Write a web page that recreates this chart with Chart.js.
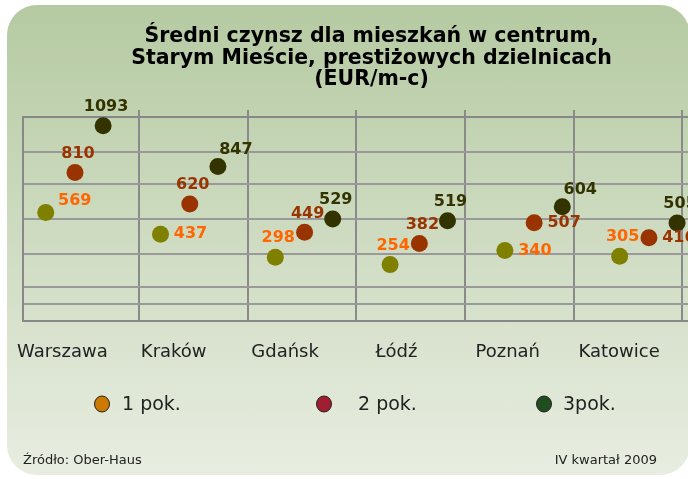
<!DOCTYPE html>
<html>
<head>
<meta charset="utf-8">
<script src="https://cdn.jsdelivr.net/npm/chart.js"></script>
<style>
  html, body { margin: 0; padding: 0; width: 688px; height: 479px; overflow: hidden; background: #fff; }
  #panel {
    position: absolute; left: 7px; top: 5px; width: 683px; height: 470px;
    border-radius: 30px;
    background: linear-gradient(to bottom, #b5caa2 0%, #e8ede1 100%);
  }
  #chart { position: absolute; left: 0; top: 0; }
</style>
</head>
<body>
<div id="panel"></div>
<canvas id="chart" width="720" height="479"></canvas>
<script>
const cities = ['Warszawa', 'Kraków', 'Gdańsk', 'Łódź', 'Poznań', 'Katowice'];
const seriesNames = ['1 pok.', '2 pok.', '3pok.'];
const rooms1 = [569, 437, 298, 254, 340, 305];
const rooms2 = [810, 620, 449, 382, 507, 416];
const rooms3 = [1093, 847, 529, 519, 604, 505];
const gridValues = [15, 120, 320, 530, 740, 935];

// where each value label sits next to its dot
const place1 = ['rt', 'r', 't', 't', 'r', 't'];
const place2 = ['t', 't', 't', 't', 'r', 'r'];
const place3 = ['t', 'tr', 't', 't', 'tr', 't'];

const dotColors = ['#808000', '#993300', '#333300'];
const labelColors = ['#ff6600', '#993300', '#333300'];
const legendColors = ['#cc7a00', '#a11e30', '#1f4d1f'];
const seriesShift = [0, 0.255, 0.5]; // dots of one city sit side by side

const xMin = -0.198, xMax = 5.8;
const yMin = -89, yMax = 1146;

function toPoints(values, s) {
    return values.map((v, i) => ({ x: i + seriesShift[s], y: v }));
}

const allValues = [rooms1, rooms2, rooms3];
const allPlaces = [place1, place2, place3];

const labelOffsets = {
    t: [3, -19],
    tr: [18, -17],
    rt: [29, -12],
    r: [30, 0]
};

// ✅ Value labels next to the dots
const valueLabels = {
    id: 'valueLabels',
    afterDatasetsDraw(chart) {
        const ctx = chart.ctx;
        ctx.save();
        ctx.font = 'bold 16px "DejaVu Sans"';
        ctx.textAlign = 'center';
        ctx.textBaseline = 'middle';
        chart.data.datasets.forEach((ds, s) => {
            const meta = chart.getDatasetMeta(s);
            meta.data.forEach((pt, i) => {
                const off = labelOffsets[allPlaces[s][i]];
                ctx.fillStyle = labelColors[s];
                ctx.fillText(String(allValues[s][i]), pt.x + off[0], pt.y + off[1]);
            });
        });
        ctx.restore();
    }
};

// ✅ Legend row and footer notes
const legendAndFooter = {
    id: 'legendAndFooter',
    afterDraw(chart) {
        const ctx = chart.ctx;
        ctx.save();
        const markerX = [102, 324, 544];
        const textX = [122, 358, 563];
        ctx.font = '19px "DejaVu Sans"';
        ctx.textBaseline = 'middle';
        ctx.textAlign = 'left';
        seriesNames.forEach((name, s) => {
            ctx.beginPath();
            ctx.ellipse(markerX[s], 404, 7.5, 8, 0, 0, Math.PI * 2);
            ctx.fillStyle = legendColors[s];
            ctx.fill();
            ctx.lineWidth = 1;
            ctx.strokeStyle = '#222';
            ctx.stroke();
            ctx.fillStyle = '#222';
            ctx.fillText(name, textX[s], 405);
        });

        ctx.font = '13px "DejaVu Sans"';
        ctx.fillStyle = '#222';
        ctx.fillText('Źródło: Ober-Haus', 23, 461);
        ctx.textAlign = 'right';
        ctx.fillText('IV kwartał 2009', 657, 461);
        ctx.restore();
    }
};

const ctx = document.getElementById('chart').getContext('2d');

const chart = new Chart(ctx, {
    type: 'scatter',
    data: {
        datasets: seriesNames.map((name, s) => ({
            label: name,
            data: toPoints(allValues[s], s),
            backgroundColor: dotColors[s],
            borderWidth: 0,
            pointRadius: 8.5,
            pointHoverRadius: 8.5
        }))
    },
    options: {
        responsive: false,
        animation: false,
        events: [],
        layout: {
            padding: { top: 26, left: 23, right: 0, bottom: 104 }
        },
        plugins: {
            legend: { display: false },
            tooltip: { enabled: false },
            title: {
                display: true,
                text: [
                    'Średni czynsz dla mieszkań w centrum,',
                    'Starym Mieście, prestiżowych dzielnicach',
                    '(EUR/m-c)'
                ],
                color: '#000',
                font: { family: 'DejaVu Sans', size: 20.5, weight: 'bold', lineHeight: 1.05 },
                padding: { top: 0, bottom: 19.4 }
            }
        },
        scales: {
            x: {
                type: 'linear',
                position: 'bottom',
                min: xMin,
                max: xMax,
                afterBuildTicks: ax => {
                    ax.ticks = cities.map((c, i) => ({ value: 0.145 + 0.97 * i }));
                },
                ticks: {
                    autoSkip: false,
                    maxRotation: 0,
                    padding: 12,
                    color: '#222',
                    font: { family: 'DejaVu Sans', size: 18 },
                    callback: (v, i) => cities[i]
                },
                grid: { display: false },
                border: { display: true, color: '#888', width: 2 }
            },
            x2: {
                type: 'linear',
                position: 'top',
                min: xMin,
                max: xMax,
                afterBuildTicks: ax => {
                    // separators between the cities
                    ax.ticks = cities.map((c, i) => ({ value: 0.812 + 0.9465 * i }));
                },
                ticks: { display: false },
                grid: { display: true, drawTicks: true, tickLength: 7, color: '#8a8a8a', lineWidth: 2 },
                border: { display: true, color: '#888', width: 2 }
            },
            y: {
                min: yMin,
                max: yMax,
                afterBuildTicks: ax => {
                    ax.ticks = gridValues.map(v => ({ value: v }));
                },
                ticks: { display: false },
                grid: { color: '#999', lineWidth: 2, drawTicks: false },
                border: { display: true, color: '#888', width: 2 }
            }
        }
    },
    plugins: [valueLabels, legendAndFooter]
});
</script>
</body>
</html>
